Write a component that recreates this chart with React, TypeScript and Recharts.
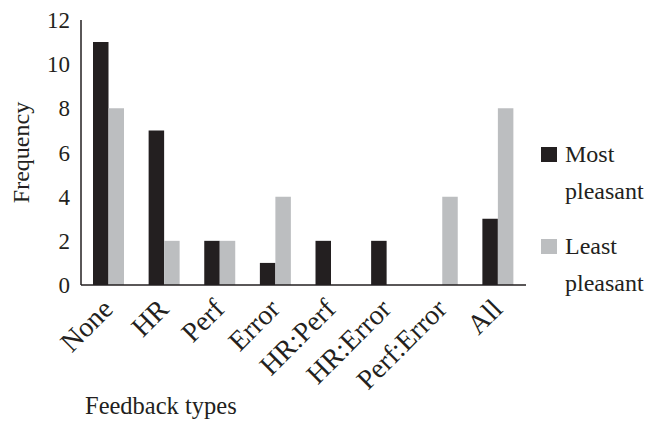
import { BarChart, Bar, XAxis, YAxis, Label } from "recharts";

// Values.
const categories = ["None", "HR", "Perf", "Error", "HR:Perf", "HR:Error", "Perf:Error", "All"];
const mostPleasant = [11, 7, 2, 1, 2, 2, 0, 3];
const leastPleasant = [8, 2, 2, 4, 0, 0, 4, 8];
const yTicks = [0, 2, 4, 6, 8, 10, 12];
const seriesNames = [
  ["Most", "pleasant"],
  ["Least", "pleasant"],
];

const C = {
  most: "#231f20",
  least: "#bcbec0",
  axis: "#231f20",
  text: "#231f20",
} as const;

const FONT = "'Liberation Serif', 'Times New Roman', serif";

const data = categories.map((name, i) => ({
  name,
  most: mostPleasant[i],
  least: leastPleasant[i],
}));

function RotatedTick({ x, y, payload }: any) {
  const ax = x - 1;
  const ay = y + 11;
  return (
    <text
      x={ax}
      y={ay}
      transform={`rotate(-45, ${ax}, ${ay})`}
      textAnchor="end"
      dominantBaseline="central"
      fontSize={28}
      fontFamily={FONT}
      fill={C.text}
    >
      {payload.value}
    </text>
  );
}

// Legend drawn beside the plot (kept out of Recharts' layout so the plot keeps its size).
function SideLegend() {
  const colors = [C.most, C.least];
  const tops = [147, 239];
  return (
    <svg
      width={647}
      height={442}
      style={{ position: "absolute", left: 0, top: 0, pointerEvents: "none" }}
    >
      {seriesNames.map((lines, i) => (
        <g key={i}>
          <rect x={541} y={tops[i]} width={16} height={15} fill={colors[i]} />
          {lines.map((l, j) => (
            <text
              key={j}
              x={565}
              y={tops[i] + 15 + j * 37}
              fontSize={24}
              fontFamily={FONT}
              fill={C.text}
            >
              {l}
            </text>
          ))}
        </g>
      ))}
    </svg>
  );
}

export default function App() {
  return (
    <div
      style={{
        position: "absolute",
        left: 0,
        top: 0,
        width: 647,
        height: 442,
        background: "#fff",
        fontFamily: FONT,
      }}
    >
      <BarChart
        width={647}
        height={442}
        data={data}
        margin={{ top: 20, right: 121, bottom: 20, left: 0 }}
        barGap={0}
        barSize={15.5}
      >
        <XAxis
          dataKey="name"
          height={137}
          interval={0}
          tickLine={false}
          axisLine={{ stroke: C.axis, strokeWidth: 1.5 }}
          tick={<RotatedTick />}
        >
          <Label
            value="Feedback types"
            position="insideBottomLeft"
            offset={8}
            dx={-4}
            style={{ fontSize: 24.5, fontFamily: FONT, fill: C.text }}
          />
        </XAxis>
        <YAxis
          width={81}
          domain={[0, 12]}
          ticks={yTicks}
          interval={0}
          tickLine={false}
          axisLine={{ stroke: C.axis, strokeWidth: 1.5 }}
          tick={{ fontSize: 23, fontFamily: FONT, fill: C.text }}
          tickMargin={5}
        >
          <Label
            value="Frequency"
            angle={-90}
            position="insideLeft"
            offset={20}
            style={{ fontSize: 24, fontFamily: FONT, fill: C.text, textAnchor: "middle" }}
          />
        </YAxis>
        <Bar dataKey="most" fill={C.most} isAnimationActive={false} />
        <Bar dataKey="least" fill={C.least} isAnimationActive={false} />
      </BarChart>
      <SideLegend />
    </div>
  );
}
